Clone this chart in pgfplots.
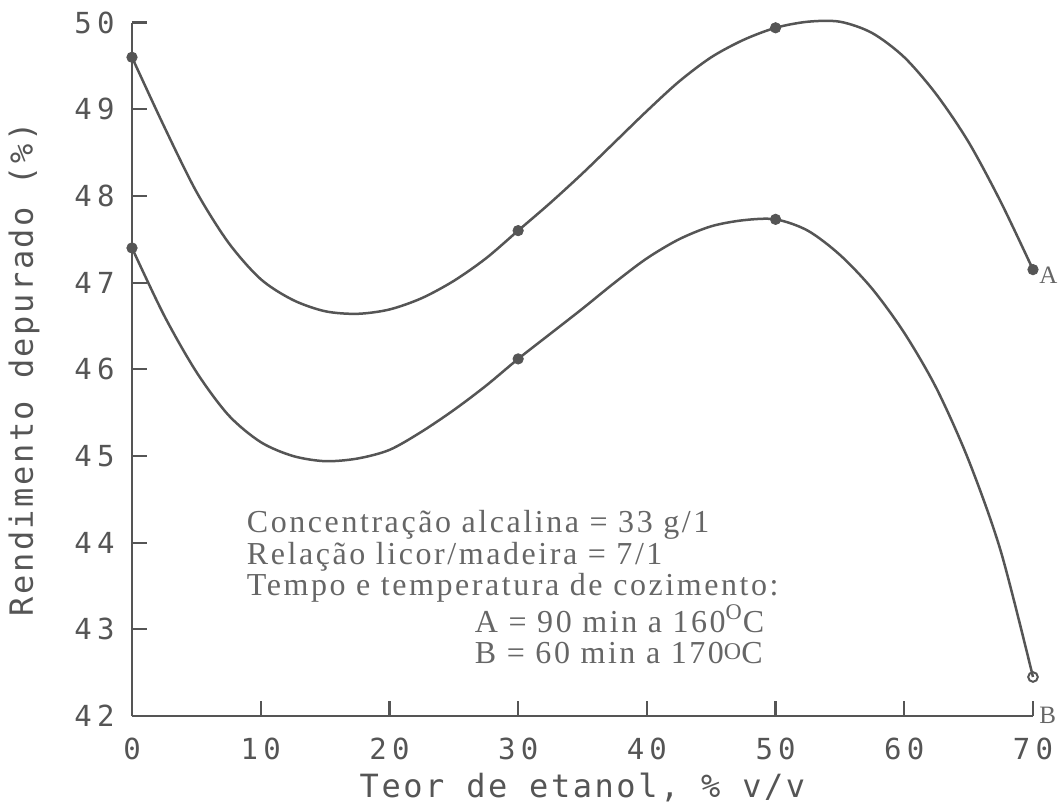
\documentclass[border=0pt]{standalone}
\usepackage{pgfplots}
\pgfplotsset{compat=1.18}
\usepackage{fontspec}
\setmainfont{Liberation Serif}
\newfontfamily\annfont[LetterSpace=8]{Liberation Serif}
\newfontfamily\labfont[LetterSpace=8]{DejaVu Sans Mono}
\newfontfamily\tickfont[LetterSpace=18]{DejaVu Sans Mono}
\definecolor{ink}{HTML}{555555}
\definecolor{txt}{HTML}{666666}

\begin{document}
\begin{tikzpicture}
\path[use as bounding box] (-66bp,-45.5bp) rectangle (463bp,358bp);
\begin{axis}[
  at={(0,0)}, anchor=south west,
  scale only axis, width=450.5bp, height=346.7bp,
  xmin=0, xmax=70, ymin=42, ymax=50,
  clip=false,
  axis x line=bottom, axis y line=left,
  axis line style={-, draw=ink, line width=1.2bp},
  xtick={0,10,...,70}, ytick={42,43,...,50},
  tick align=inside, major tick length=7.5bp,
  tick style={draw=ink, line width=1.1bp},
  /pgf/number format/assume math mode=true,
  xticklabel style={font=\tickfont\fontsize{14.5bp}{15bp}\selectfont, text=ink, inner sep=0pt, anchor=north, yshift=-11bp},
  yticklabel style={font=\tickfont\fontsize{14.5bp}{15bp}\selectfont, text=ink, inner sep=0pt, anchor=east, xshift=-8.5bp},
  xlabel={Teor de etanol, \% v/v},
  ylabel={Rendimento depurado (\%)},
  xlabel style={font=\labfont\fontsize{16bp}{17bp}\selectfont, text=ink, at={(axis description cs:0.5,-0.1038)}, anchor=center, inner sep=0pt},
  ylabel style={font=\labfont\fontsize{16bp}{17bp}\selectfont, text=ink, at={(axis description cs:-0.1199,0.5)}, anchor=center, inner sep=0pt},
]
% curve A
\addplot[ink, line width=1.25bp, smooth] coordinates {
 (0,49.60) (2.5,48.80) (5,48.05) (7.5,47.46) (10,47.04) (12.5,46.80)
 (15,46.67) (17.5,46.64) (20,46.69) (22.5,46.82) (25,47.02) (27.5,47.28)
 (30,47.60) (32.5,47.92) (35,48.26) (37.5,48.62) (40,48.98) (42.5,49.32)
 (45,49.60) (47.5,49.80) (50,49.94) (52.5,50.01) (55,50.01) (57.5,49.88)
 (60,49.60) (62.5,49.17) (65,48.62) (67.5,47.93) (70,47.15)
};
% curve B
\addplot[ink, line width=1.25bp, smooth] coordinates {
 (0,47.40) (2.5,46.62) (5,45.97) (7.5,45.47) (10,45.16) (12.5,45.00)
 (15,44.94) (17.5,44.97) (20,45.07) (22.5,45.28) (25,45.53) (27.5,45.81)
 (30,46.12) (32.5,46.41) (35,46.70) (37.5,47.00) (40,47.28) (42.5,47.50)
 (45,47.65) (47.5,47.72) (50,47.73) (52.5,47.60) (55,47.32) (57.5,46.93)
 (60,46.42) (62.5,45.78) (65,44.95) (67.5,43.90) (70,42.45)
};
% measured points
\addplot[only marks, mark=*, mark size=2.6bp, ink, mark options={fill=ink, draw=ink}] coordinates {
 (0,49.60) (30,47.60) (50,49.94) (70,47.15)
 (0,47.40) (30,46.12) (50,47.73)
};
\addplot[only marks, mark=o, mark size=2.4bp, ink, mark options={draw=ink, fill=white, line width=1bp}] coordinates {
 (70,42.45)
};
\node[anchor=west, text=txt, font=\fontsize{12.5bp}{13bp}\selectfont, inner sep=0pt, xshift=3bp, yshift=-3bp] at (axis cs:70,47.15) {A};
\node[anchor=west, text=txt, font=\fontsize{12.5bp}{13bp}\selectfont, inner sep=0pt, xshift=3bp, yshift=0.5bp] at (axis cs:70,42) {B};
\node[anchor=north west, align=left, text=txt, inner sep=0pt, font=\annfont\fontsize{16bp}{15.9bp}\selectfont] at (axis cs:8.9,44.38) {%
Concentração alcalina = 33 g/1\\
Relação licor/madeira = 7/1\\
Tempo e temperatura de cozimento:\\
\hspace*{114bp}A = 90 min a 160\textsuperscript{O}C\\
\hspace*{114bp}B = 60 min a 170\raisebox{0.3ex}{\fontsize{12bp}{12bp}\selectfont O}C};
\end{axis}
\end{tikzpicture}
\end{document}
